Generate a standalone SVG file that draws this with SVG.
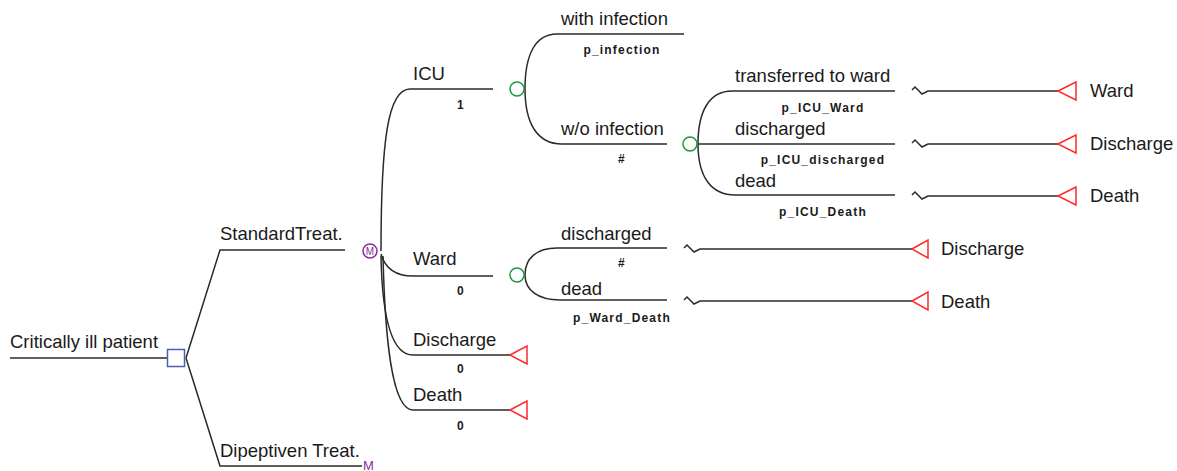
<svg xmlns="http://www.w3.org/2000/svg" width="1177" height="471" viewBox="0 0 1177 471">
<style>
.ln{fill:none;stroke:#2a2a2a;stroke-width:1.5}
.t{font-family:"Liberation Sans",Arial,sans-serif;font-size:18.5px;fill:#1a1a1a}
.s{font-family:"Liberation Sans",Arial,sans-serif;font-size:12px;font-weight:bold;fill:#1a1a1a;letter-spacing:1.2px;text-anchor:middle}
.ch{fill:none;stroke:#1a9a40;stroke-width:1.5}
.term{fill:none;stroke:#ff2a2a;stroke-width:1.5}
.mk{fill:none;stroke:#8a2b9a;stroke-width:1.5}
.mt{font-family:"Liberation Sans",Arial,sans-serif;fill:#8a2b9a}
</style>
<rect width="1177" height="471" fill="#fff"/>
<g id="connectors">
<path class="ln" d="M10 358H167"/>
<path class="ln" d="M186 358L220 250H345"/>
<path class="ln" d="M186 358L220 466H362"/>
<path class="ln" d="M381 251C381 140 388 89 410 89H493"/>
<path class="ln" d="M381 254C385 268 396 276 413 276H493"/>
<path class="ln" d="M381 256C382 310 390 355 413 355H510"/>
<path class="ln" d="M383 256C385 340 392 410 413 410H510"/>
<path class="ln" d="M525 89C525 55 535 34 557 34H684"/>
<path class="ln" d="M525 89C525 123 537 144 562 144H667"/>
<path class="ln" d="M698 144C698 110 710 91 732 91H895"/>
<path class="ln" d="M698 144H895"/>
<path class="ln" d="M698 144C698 178 712 195 735 195H895"/>
<path class="ln" d="M525 275C525 258 537 248 557 248H667"/>
<path class="ln" d="M525 275C525 290 538 300 560 300H667"/>
<path class="ln" d="M912 90L915 87L922 94L928 91H1058"/>
<path class="ln" d="M912 143L915 140L922 147L928 144H1058"/>
<path class="ln" d="M912 195L915 192L922 199L928 196H1058"/>
<path class="ln" d="M684 248L687 245L694 252L700 249H912"/>
<path class="ln" d="M684 300L687 297L694 304L700 301H912"/>
</g>
<g id="n-root">
<rect x="167.5" y="349.5" width="17" height="17" fill="none" stroke="#4a5fb0" stroke-width="1.5"/>
<text class="t" x="10" y="348">Critically ill patient</text>
</g>
<g id="n-standard">
<text class="t" x="220" y="240">StandardTreat.</text>
<circle class="mk" cx="370" cy="251" r="7"/>
<text class="mt" x="370" y="255" font-size="10" text-anchor="middle">M</text>
</g>
<g id="n-dipeptiven">
<text class="t" x="220" y="457">Dipeptiven Treat.</text>
<text class="mt" x="363" y="470" font-size="13">M</text>
</g>
<g id="n-icu">
<text class="t" x="413" y="80">ICU</text>
<text class="s" x="461" y="109">1</text>
<circle class="ch" cx="517" cy="89" r="7"/>
</g>
<g id="n-with-infection">
<text class="t" x="561" y="25">with infection</text>
<text class="s" x="622" y="54">p_infection</text>
</g>
<g id="n-wo-infection">
<text class="t" x="561" y="135">w/o infection</text>
<text class="s" x="622" y="163">#</text>
<circle class="ch" cx="690" cy="144" r="7"/>
</g>
<g id="n-icu-ward">
<text class="t" x="735" y="82">transferred to ward</text>
<text class="s" x="823" y="112">p_ICU_Ward</text>
<path class="term" d="M1058 91L1076 82V100Z"/>
<text class="t" x="1090" y="97">Ward</text>
</g>
<g id="n-icu-discharged">
<text class="t" x="735" y="135">discharged</text>
<text class="s" x="823" y="164">p_ICU_discharged</text>
<path class="term" d="M1058 144L1076 135V153Z"/>
<text class="t" x="1090" y="150">Discharge</text>
</g>
<g id="n-icu-dead">
<text class="t" x="735" y="187">dead</text>
<text class="s" x="823" y="216">p_ICU_Death</text>
<path class="term" d="M1058 196L1076 187V205Z"/>
<text class="t" x="1090" y="202">Death</text>
</g>
<g id="n-ward">
<text class="t" x="413" y="265">Ward</text>
<text class="s" x="461" y="295">0</text>
<circle class="ch" cx="517" cy="275" r="7"/>
</g>
<g id="n-ward-discharged">
<text class="t" x="561" y="240">discharged</text>
<text class="s" x="622" y="267">#</text>
<path class="term" d="M912 249L928 240V258Z"/>
<text class="t" x="941" y="255">Discharge</text>
</g>
<g id="n-ward-dead">
<text class="t" x="561" y="295">dead</text>
<text class="s" x="622" y="322">p_Ward_Death</text>
<path class="term" d="M912 301L928 292V310Z"/>
<text class="t" x="941" y="308">Death</text>
</g>
<g id="n-discharge">
<text class="t" x="413" y="346">Discharge</text>
<text class="s" x="461" y="373">0</text>
<path class="term" d="M510 355L527 346V364Z"/>
</g>
<g id="n-death">
<text class="t" x="413" y="401">Death</text>
<text class="s" x="461" y="430">0</text>
<path class="term" d="M510 410L527 401V419Z"/>
</g>
</svg>
